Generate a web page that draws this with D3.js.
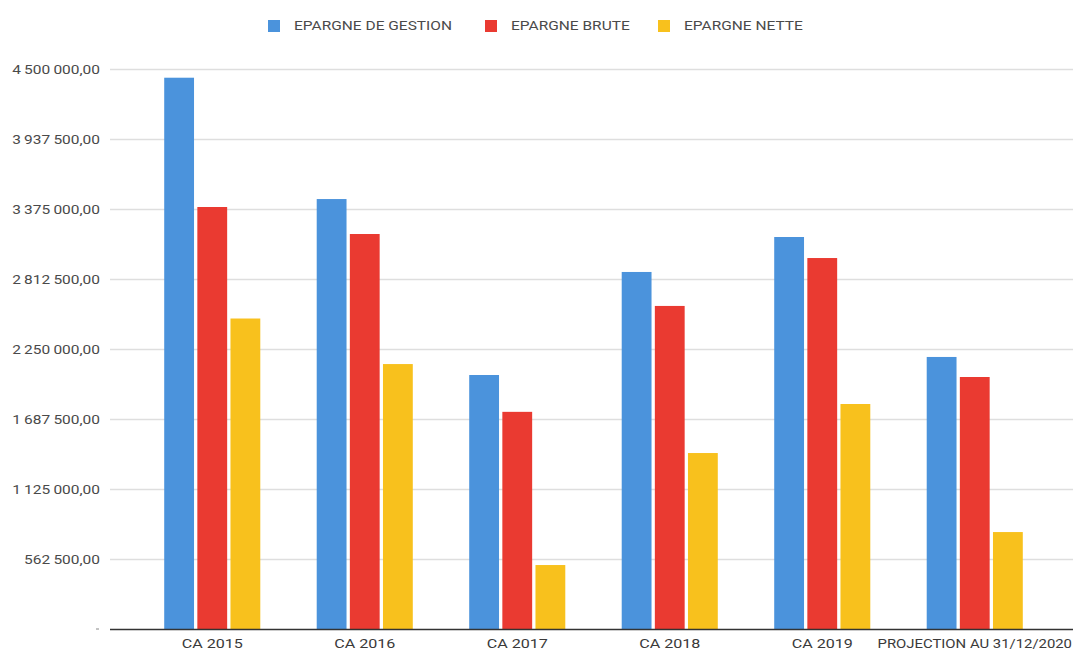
<!DOCTYPE html>
<html>
<head>
<meta charset="utf-8">
<script src="https://cdn.jsdelivr.net/npm/d3@7"></script>
<style>
  html, body { margin: 0; padding: 0; background: #fff; }
  svg { display: block; }
  text { font-family: Roboto, "Noto Sans", sans-serif; }
</style>
</head>
<body>
<svg id="chart" width="1073" height="654"></svg>
<script>
// Savings figures per financial year (euros)
const categories = ["CA 2015", "CA 2016", "CA 2017", "CA 2018", "CA 2019", "PROJECTION AU 31/12/2020"];
const seriesNames = ["EPARGNE DE GESTION", "EPARGNE BRUTE", "EPARGNE NETTE"];
const epargneGestion = [4430000, 3455000, 2041000, 2869000, 3150000, 2186000];
const epargneBrute   = [3391000, 3174000, 1745000, 2596000, 2981000, 2025000];
const epargneNette   = [2495000, 2129000, 514000, 1414000, 1808000, 779000];
const yTicks = [0, 562500, 1125000, 1687500, 2250000, 2812500, 3375000, 3937500, 4500000];
const colors = ["#4b93dc", "#ea3a31", "#f8c11d"];

// Text is drawn with a wide horizontal stretch
const STRETCH = 1.24;
const WIDTH = 1073;

const seriesValues = [epargneGestion, epargneBrute, epargneNette];
const rows = categories.map((c, i) => ({ cat: c, values: seriesValues.map(s => s[i]) }));

const svg = d3.select("#chart");

const y = d3.scaleLinear().domain([0, 4500000]).range([629, 69]);
const x = d3.scaleBand().domain(categories).range([136, 1051]).paddingInner(0.37).paddingOuter(0.185);
const xs = d3.scaleBand().domain(d3.range(3)).range([0, x.bandwidth()]).paddingInner(0.1);

const fr = d3.formatLocale({ decimal: ",", thousands: "\u2009", grouping: [3], currency: ["", " €"] });
const fmt = fr.format(",.2f");

// Horizontal gridlines and value labels
const yAxis = d3.axisLeft(y)
  .tickValues(yTicks.filter(v => v > 0))
  .tickSize(-(WIDTH - 110))
  .tickFormat(fmt)
  .tickPadding(10);

const gy = svg.append("g").attr("transform", "translate(110,0)").call(yAxis);
gy.select(".domain").remove();
gy.selectAll(".tick line").attr("stroke", "#dedede").attr("stroke-width", 1.6);
gy.selectAll(".tick text")
  .attr("fill", "#4a4a4a")
  .attr("font-size", 12.5)
  .attr("x", 0)
  .attr("transform", `translate(-10,0) scale(${STRETCH},1)`);

// zero label shown as a small mark
svg.append("line")
  .attr("x1", 96).attr("x2", 99)
  .attr("y1", y(0)).attr("y2", y(0))
  .attr("stroke", "#888").attr("stroke-width", 1);

// Bars
const groups = svg.append("g").selectAll("g")
  .data(rows)
  .join("g")
  .attr("transform", d => `translate(${x(d.cat)},0)`);

groups.selectAll("rect")
  .data(d => d.values.map((v, k) => ({ k, v })))
  .join("rect")
  .attr("x", d => xs(d.k))
  .attr("width", xs.bandwidth())
  .attr("y", d => y(d.v))
  .attr("height", d => y(0) - y(d.v))
  .attr("fill", d => colors[d.k]);

// Baseline and category labels
const xAxis = d3.axisBottom(x).tickSize(0).tickPadding(10);
const gx = svg.append("g").attr("transform", `translate(0,${y(0)})`).call(xAxis);
gx.select(".domain").remove();
gx.selectAll(".tick text")
  .attr("fill", "#3a3a3a")
  .attr("font-size", 13)
  .each(function (d) {
    // stretch the label, but keep it inside the right edge
    const w = this.getComputedTextLength();
    const centre = x(d) + x.bandwidth() / 2;
    const room = 2 * (WIDTH - 1 - centre);
    const s = Math.min(STRETCH, room / w);
    d3.select(this).attr("transform", `scale(${s},1)`);
  });

svg.append("line")
  .attr("x1", 110).attr("x2", WIDTH)
  .attr("y1", y(0) + 0.5).attr("y2", y(0) + 0.5)
  .attr("stroke", "#333").attr("stroke-width", 1.6);

// Legend
const legendX = [268, 485, 658];
const legend = svg.append("g").selectAll("g")
  .data(seriesNames)
  .join("g")
  .attr("transform", (d, i) => `translate(${legendX[i]},20)`);
legend.append("rect")
  .attr("width", 12).attr("height", 12)
  .attr("fill", (d, i) => colors[i]);
legend.append("text")
  .attr("dy", "0.35em")
  .attr("font-size", 12.5)
  .attr("fill", "#4a4a4a")
  .attr("transform", `translate(26,6) scale(${STRETCH},1)`)
  .text(d => d);
</script>
</body>
</html>
